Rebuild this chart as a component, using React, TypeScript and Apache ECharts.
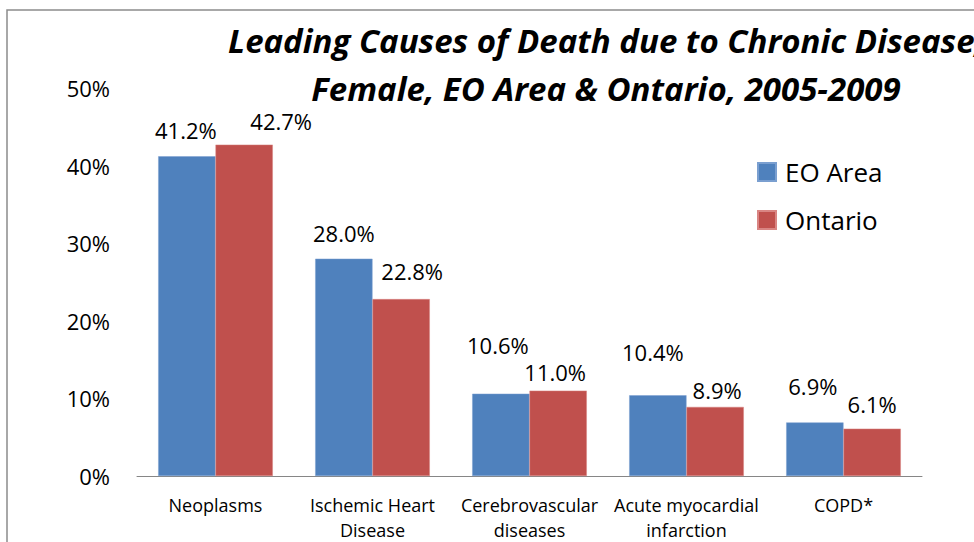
import React, { useEffect, useRef } from 'react';
import * as echarts from 'echarts';

const categories = [
  'Neoplasms',
  'Ischemic Heart\nDisease',
  'Cerebrovascular\ndiseases',
  'Acute myocardial\ninfarction',
  'COPD*',
];
const seriesNames = ['EO Area', 'Ontario'];
const eoArea = [41.2, 28.0, 10.6, 10.4, 6.9];
const ontario = [42.7, 22.8, 11.0, 8.9, 6.1];
const titleLines = [
  'Leading Causes of Death due to Chronic Disease,',
  'Female, EO Area & Ontario, 2005-2009',
];

// label nudges (dx, dy from bar top) — layout only
const eoLabelNudge = [[-1, -26.5], [0, -26], [-3, -48.5], [-5, -43.5], [-2, -36.3]];
const onLabelNudge = [[37, -24], [11, -28], [-3, -18.5], [2, -17.3], [0, -25]];

const FONT = '"Open Sans", "Noto Sans", sans-serif';
const LABEL_SIZE = 22;

export default function App() {
  const ref = useRef<HTMLDivElement>(null);
  useEffect(() => {
    if (!ref.current) return;
    const chart = echarts.init(ref.current, undefined, { renderer: 'svg' });
    const mk = (vals: number[], nudge: number[][]) =>
      vals.map((v, i) => ({
        value: v,
        label: { offset: [nudge[i][0], nudge[i][1] + LABEL_SIZE / 2] },
      }));
    const labelCfg = {
      show: true,
      position: 'top',
      distance: 0,
      fontSize: LABEL_SIZE,
      lineHeight: LABEL_SIZE,
      fontFamily: FONT,
      color: '#000',
      formatter: (p: any) => Number(p.value).toFixed(1) + '%',
    };
    const titleStyle = {
      align: 'center',
      verticalAlign: 'middle',
      fontSize: 33,
      fontWeight: 'bold',
      fontStyle: 'italic',
      fontFamily: FONT,
      fill: '#000',
    };
    chart.setOption({
      animation: false,
      backgroundColor: '#fff',
      textStyle: { fontFamily: FONT },
      graphic: [
        {
          type: 'rect',
          shape: { x: 7, y: 10, width: 1000, height: 600 },
          style: { fill: 'none', stroke: '#8c8c8c', lineWidth: 1.5 },
          silent: true,
        },
        { type: 'text', x: 606, y: 40, style: { ...titleStyle, text: titleLines[0] } },
        { type: 'text', x: 606, y: 88, style: { ...titleStyle, text: titleLines[1] } },
      ],
      legend: {
        orient: 'vertical',
        left: 752,
        top: 154,
        itemWidth: 18,
        itemHeight: 18,
        itemGap: 22,
        icon: 'rect',
        data: seriesNames,
        textStyle: { fontSize: 26, fontFamily: FONT, color: '#000', padding: [0, 0, 0, 4] },
      },
      grid: { left: 137, right: 52, top: 88, bottom: 65, containLabel: false },
      xAxis: {
        type: 'category',
        data: categories,
        axisLine: { lineStyle: { color: '#868686', width: 1 } },
        axisTick: { show: false },
        axisLabel: {
          fontSize: 18,
          lineHeight: 25,
          margin: 16,
          color: '#000',
          fontFamily: FONT,
          interval: 0,
        },
      },
      yAxis: {
        type: 'value',
        min: 0,
        max: 50,
        interval: 10,
        axisLine: { show: false },
        axisTick: { show: false },
        splitLine: { show: false },
        axisLabel: {
          formatter: '{value}%',
          fontSize: 22,
          margin: 27,
          color: '#000',
          fontFamily: FONT,
        },
      },
      series: [
        {
          name: seriesNames[0],
          type: 'bar',
          data: mk(eoArea, eoLabelNudge),
          barGap: '0%',
          barCategoryGap: '27%',
          itemStyle: { color: '#4F81BD', borderColor: '#7a9fd0', borderWidth: 0.5 },
          label: labelCfg,
        },
        {
          name: seriesNames[1],
          type: 'bar',
          data: mk(ontario, onLabelNudge),
          barGap: '0%',
          barCategoryGap: '27%',
          itemStyle: { color: '#C0504D', borderColor: '#d98583', borderWidth: 0.5 },
          label: labelCfg,
        },
      ],
    });
    return () => chart.dispose();
  }, []);
  return (
    <div
      ref={ref}
      style={{ position: 'absolute', left: 0, top: 0, width: 974, height: 542 }}
    />
  );
}
